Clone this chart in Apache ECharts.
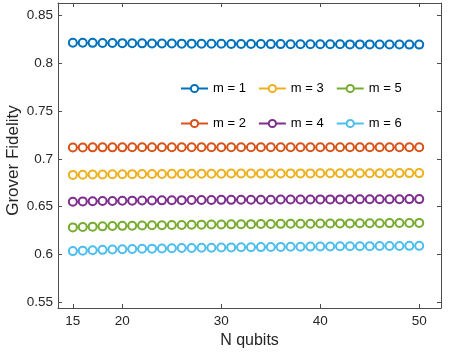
<!DOCTYPE html>
<html><head><meta charset="utf-8">
<script src="https://cdn.jsdelivr.net/npm/echarts@6/dist/echarts.min.js"></script>
<style>html,body{margin:0;padding:0;background:#fff}#c{width:449px;height:352px}</style>
</head><body><div id="c"></div>
<script>
var nQubits = [15,16,17,18,19,20,21,22,23,24,25,26,27,28,29,30,31,32,33,34,35,36,37,38,39,40,41,42,43,44,45,46,47,48,49,50];
var m1 = [0.8215,0.8214,0.8213,0.8212,0.8211,0.8210,0.8209,0.8208,0.8207,0.8207,
          0.8206,0.8205,0.8205,0.8204,0.8203,0.8203,0.8202,0.8202,0.8201,0.8201,
          0.8200,0.8200,0.8199,0.8199,0.8199,0.8198,0.8198,0.8198,0.8197,0.8197,
          0.8197,0.8196,0.8196,0.8196,0.8195,0.8195];
var m2 = [0.7119,0.7119,0.7120,0.7120,0.7120,0.7120,0.7121,0.7121,0.7121,0.7121,
          0.7121,0.7121,0.7121,0.7122,0.7122,0.7122,0.7122,0.7122,0.7122,0.7122,
          0.7122,0.7122,0.7122,0.7122,0.7122,0.7122,0.7122,0.7122,0.7122,0.7122,
          0.7122,0.7122,0.7122,0.7122,0.7122,0.7122];
var m3 = [0.6832,0.6834,0.6836,0.6837,0.6838,0.6839,0.6840,0.6841,0.6842,0.6842,
          0.6843,0.6843,0.6844,0.6844,0.6845,0.6845,0.6846,0.6846,0.6846,0.6847,
          0.6847,0.6847,0.6848,0.6848,0.6848,0.6849,0.6849,0.6849,0.6849,0.6850,
          0.6850,0.6850,0.6850,0.6851,0.6851,0.6851];
var m4 = [0.6552,0.6555,0.6557,0.6559,0.6560,0.6562,0.6563,0.6564,0.6565,0.6566,
          0.6567,0.6568,0.6569,0.6569,0.6570,0.6571,0.6571,0.6572,0.6572,0.6573,
          0.6573,0.6574,0.6574,0.6575,0.6575,0.6576,0.6576,0.6576,0.6577,0.6577,
          0.6577,0.6578,0.6578,0.6578,0.6579,0.6579];
var m5 = [0.6283,0.6288,0.6291,0.6294,0.6297,0.6299,0.6301,0.6303,0.6305,0.6306,
          0.6308,0.6309,0.6310,0.6312,0.6313,0.6314,0.6315,0.6316,0.6317,0.6318,
          0.6319,0.6320,0.6321,0.6322,0.6322,0.6323,0.6324,0.6325,0.6325,0.6326,
          0.6327,0.6327,0.6328,0.6329,0.6329,0.6330];
var m6 = [0.6035,0.6040,0.6044,0.6048,0.6051,0.6054,0.6057,0.6059,0.6061,0.6063,
          0.6065,0.6067,0.6068,0.6070,0.6071,0.6073,0.6074,0.6075,0.6076,0.6077,
          0.6078,0.6079,0.6080,0.6081,0.6082,0.6083,0.6084,0.6085,0.6085,0.6086,
          0.6087,0.6088,0.6088,0.6089,0.6090,0.6090];
var seriesNames = ['m = 1','m = 2','m = 3','m = 4','m = 5','m = 6'];
var seriesValues = [m1,m2,m3,m4,m5,m6];
var colors = ['#0072BD','#D95319','#EDB120','#7E2F8E','#77AC30','#4DBEEE'];
var xTicks = [15,20,30,40,50];
var yTicks = [0.55,0.6,0.65,0.7,0.75,0.8,0.85];

var FONT = 'Liberation Sans, Arial, Helvetica, sans-serif';
var TXT = '#262626';
var AX = '#4d4d4d';

function pairs(vals){ return nQubits.map(function(n,i){ return [n, vals[i]]; }); }

var series = seriesNames.map(function(name,i){
  return {
    name: name, type: 'line', data: pairs(seriesValues[i]),
    xAxisIndex: 0, yAxisIndex: 0,
    symbol: 'emptyCircle', symbolSize: 8, showAllSymbol: true,
    lineStyle: {color: colors[i], width: 1.5},
    itemStyle: {color: colors[i], borderColor: colors[i], borderWidth: 1.5},
    emphasis: {disabled: true}, animation: false
  };
});

var legendCommon = {
  orient: 'horizontal', itemWidth: 27, itemHeight: 9, itemGap: 12,
  textStyle: {fontFamily: FONT, fontSize: 13, color: '#000'},
  selectedMode: false
};

var xMin = 13.5, xMax = 52.2, yMin = 0.544, yMax = 0.863;

var option = {
  backgroundColor: '#fff',
  animation: false,
  color: colors,
  grid: {left: 58, right: 8, top: 3, bottom: 44, containLabel: false, outerBoundsMode: 'none'},
  legend: [
    Object.assign({left: 175, top: 77, data: [seriesNames[0], seriesNames[2], seriesNames[4]]}, legendCommon),
    Object.assign({left: 175, top: 112, data: [seriesNames[1], seriesNames[3], seriesNames[5]]}, legendCommon)
  ],
  xAxis: [{
    type: 'value', min: xMin, max: xMax, position: 'bottom',
    name: 'N qubits', nameLocation: 'middle', nameGap: 23,
    nameTextStyle: {fontFamily: FONT, fontSize: 16, color: TXT},
    axisLine: {show: true, onZero: false, lineStyle: {color: AX, width: 1}},
    axisTick: {show: true, inside: true, length: 4, customValues: xTicks, lineStyle: {color: AX}},
    axisLabel: {customValues: xTicks, fontFamily: FONT, fontSize: 13.5, color: TXT, margin: 6},
    splitLine: {show: false}
  },{
    type: 'value', min: xMin, max: xMax, position: 'top',
    axisLine: {show: true, onZero: false, lineStyle: {color: AX, width: 1}},
    axisTick: {show: true, inside: true, length: 4, customValues: xTicks, lineStyle: {color: AX}},
    axisLabel: {show: false}, splitLine: {show: false}
  }],
  yAxis: [{
    type: 'value', min: yMin, max: yMax, position: 'left',
    name: 'Grover Fidelity', nameLocation: 'middle', nameGap: 36, nameMoveOverlap: false,
    nameTextStyle: {fontFamily: FONT, fontSize: 17, color: TXT, padding: [0, 10, 0, 0]},
    axisLine: {show: true, onZero: false, lineStyle: {color: AX, width: 1}},
    axisTick: {show: true, inside: true, length: 4, customValues: yTicks, lineStyle: {color: AX}},
    axisLabel: {customValues: yTicks, fontFamily: FONT, fontSize: 13.5, color: TXT, margin: 5},
    splitLine: {show: false}
  },{
    type: 'value', min: yMin, max: yMax, position: 'right',
    axisLine: {show: true, onZero: false, lineStyle: {color: AX, width: 1}},
    axisTick: {show: true, inside: true, length: 4, customValues: yTicks, lineStyle: {color: AX}},
    axisLabel: {show: false}, splitLine: {show: false}
  }],
  series: series
};
var chart = echarts.init(document.getElementById('c'), null, {renderer: 'canvas'});
chart.setOption(option);
</script>
</body></html>
